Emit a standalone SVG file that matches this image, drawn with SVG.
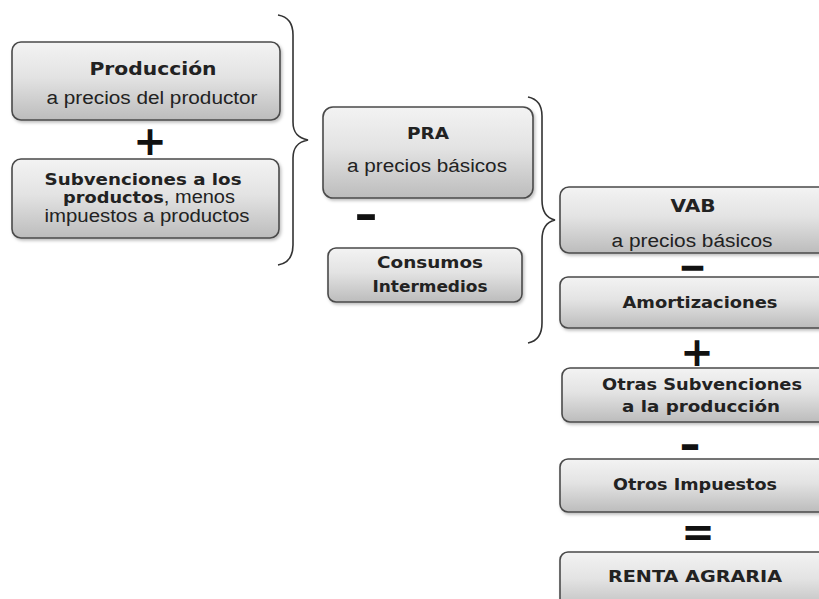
<svg xmlns="http://www.w3.org/2000/svg" width="819" height="599" viewBox="0 0 819 599">
<defs>
<linearGradient id="g" x1="0" y1="0" x2="0" y2="1">
<stop offset="0" stop-color="#f3f3f3"/>
<stop offset="0.45" stop-color="#e3e3e3"/>
<stop offset="1" stop-color="#bcbcbc"/>
</linearGradient>
<filter id="sh" x="-5%" y="-5%" width="115%" height="125%">
<feDropShadow dx="1.5" dy="2" stdDeviation="1.5" flood-color="#000" flood-opacity="0.25"/>
</filter>
</defs>
<style>
.box{fill:url(#g);stroke:#4a4a4a;stroke-width:1.6;filter:url(#sh)}
.b{font-family:"DejaVu Sans",Verdana,sans-serif;font-weight:bold;fill:#222;text-anchor:middle}
.r{font-family:"Liberation Sans",Arial,sans-serif;fill:#222;text-anchor:middle}
.op{font-family:"DejaVu Sans",sans-serif;font-weight:bold;fill:#111;text-anchor:middle}
.brace{fill:none;stroke:#333;stroke-width:1.6}
</style>
<rect width="819" height="599" fill="#fff"/>

<g id="connectors">
<path class="brace" d="M278,15 C290,17 293,25 293,35 L293,122 C293,133 298,138 308,140 C298,142 293,147 293,158 L293,245 C293,255 290,263 278,265"/>
<path class="brace" d="M528,97 C538,99 542,106 542,116 L542,200 C542,212 546,218 555,220 C546,222 542,228 542,240 L542,323 C542,334 538,341 528,343"/>
</g>

<g id="produccion">
<rect class="box" x="12" y="42" width="268" height="78" rx="9"/>
<text class="b" x="153" y="75" font-size="18" textLength="127" lengthAdjust="spacingAndGlyphs">Producción</text>
<text class="r" x="152" y="104" font-size="18" textLength="211" lengthAdjust="spacingAndGlyphs">a precios del productor</text>
</g>

<g id="op-plus-1"><text class="op" x="150" y="155" font-size="40">+</text></g>

<g id="subvenciones-productos">
<rect class="box" x="12" y="159" width="267" height="79" rx="9"/>
<text class="b" x="143" y="185" font-size="16" textLength="197" lengthAdjust="spacingAndGlyphs">Subvenciones a los</text>
<text x="149" y="203" font-size="18" class="r" textLength="172" lengthAdjust="spacingAndGlyphs"><tspan class="b" font-size="16">productos</tspan>, menos</text>
<text class="r" x="147" y="222" font-size="18" textLength="205" lengthAdjust="spacingAndGlyphs">impuestos a productos</text>
</g>

<g id="pra">
<rect class="box" x="323" y="107" width="210" height="91" rx="10"/>
<text class="b" x="428" y="139" font-size="16" textLength="42" lengthAdjust="spacingAndGlyphs">PRA</text>
<text class="r" x="427" y="172" font-size="18" textLength="160" lengthAdjust="spacingAndGlyphs">a precios básicos</text>
</g>

<g id="op-minus-1"><text class="op" x="366" y="229" font-size="40" textLength="24" lengthAdjust="spacingAndGlyphs">-</text></g>

<g id="consumos">
<rect class="box" x="328" y="248" width="194" height="54" rx="8"/>
<text class="b" x="430" y="268" font-size="16" textLength="106" lengthAdjust="spacingAndGlyphs">Consumos</text>
<text class="b" x="430" y="292" font-size="16" textLength="115" lengthAdjust="spacingAndGlyphs">Intermedios</text>
</g>

<g id="vab">
<rect class="box" x="560" y="187" width="275" height="66" rx="9"/>
<text class="b" x="693" y="212" font-size="18" textLength="45" lengthAdjust="spacingAndGlyphs">VAB</text>
<text class="r" x="692" y="247" font-size="18" textLength="161" lengthAdjust="spacingAndGlyphs">a precios básicos</text>
</g>

<g id="op-minus-2"><text class="op" x="692.5" y="275" font-size="24" stroke="#111" stroke-width="1.6" textLength="24" lengthAdjust="spacingAndGlyphs">-</text></g>

<g id="amortizaciones">
<rect class="box" x="560" y="277" width="275" height="51" rx="8"/>
<text class="b" x="700" y="308" font-size="16" textLength="155" lengthAdjust="spacingAndGlyphs">Amortizaciones</text>
</g>

<g id="op-plus-2"><text class="op" x="697" y="366" font-size="40">+</text></g>

<g id="otras-subvenciones">
<rect class="box" x="562" y="368" width="273" height="54" rx="8"/>
<text class="b" x="702" y="390" font-size="16" textLength="200" lengthAdjust="spacingAndGlyphs">Otras Subvenciones</text>
<text class="b" x="701" y="412" font-size="16" textLength="158" lengthAdjust="spacingAndGlyphs">a la producción</text>
</g>

<g id="op-minus-3"><text class="op" x="690" y="459" font-size="40" textLength="22" lengthAdjust="spacingAndGlyphs">-</text></g>

<g id="otros-impuestos">
<rect class="box" x="560" y="459" width="275" height="53" rx="8"/>
<text class="b" x="695" y="490" font-size="16" textLength="164" lengthAdjust="spacingAndGlyphs">Otros Impuestos</text>
</g>

<g id="op-equals"><text class="op" x="698" y="546" font-size="40">=</text></g>

<g id="renta-agraria">
<rect class="box" x="560" y="552" width="275" height="60" rx="8"/>
<text class="b" x="695" y="582" font-size="16" textLength="174" lengthAdjust="spacingAndGlyphs">RENTA AGRARIA</text>
</g>
</svg>
